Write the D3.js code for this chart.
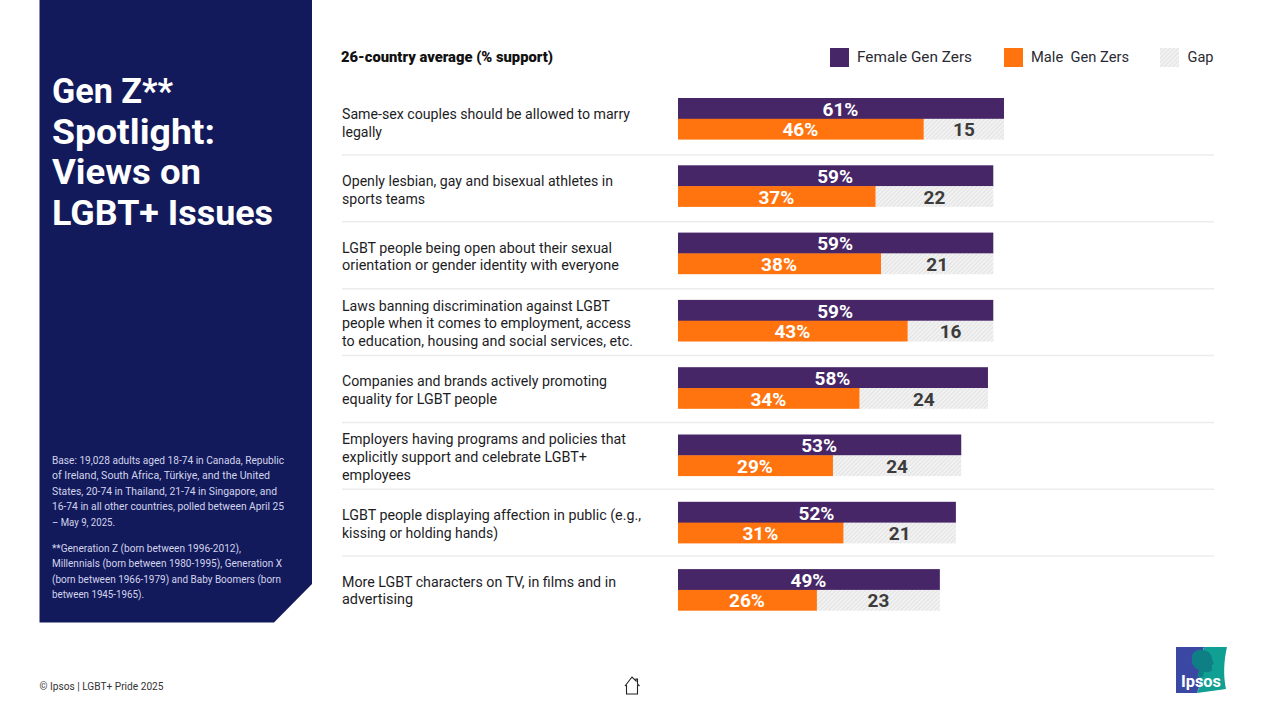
<!DOCTYPE html>
<html><head><meta charset="utf-8">
<script src="https://cdn.jsdelivr.net/npm/d3@7"></script>
<style>
html,body{margin:0;padding:0;background:#fff;overflow:hidden}
svg{display:block}
text{font-family:Roboto,"Noto Sans",sans-serif}
</style></head><body>
<svg id="c" width="1265" height="715"></svg>
<script>
const statements=[
 ["Same-sex couples should be allowed to marry","legally"],
 ["Openly lesbian, gay and bisexual athletes in","sports teams"],
 ["LGBT people being open about their sexual","orientation or gender identity with everyone"],
 ["Laws banning discrimination against LGBT","people when it comes to employment, access","to education, housing and social services, etc."],
 ["Companies and brands actively promoting","equality for LGBT people"],
 ["Employers having programs and policies that","explicitly support and celebrate LGBT+","employees"],
 ["LGBT people displaying affection in public (e.g.,","kissing or holding hands)"],
 ["More LGBT characters on TV, in films and in","advertising"]];
const female=[61,59,59,59,58,53,52,49];
const male=[46,37,38,43,34,29,31,26];
const gap=[15,22,21,16,24,24,21,23];
const titleLines=["Gen Z**","Spotlight:","Views on","LGBT+ Issues"];
const baseLines=["Base: 19,028 adults aged 18-74 in Canada, Republic","of Ireland, South Africa, Türkiye, and the United","States, 20-74 in Thailand, 21-74 in Singapore, and","16-74 in all other countries, polled between April 25","– May 9, 2025."];
const noteLines=["**Generation Z (born between 1996-2012),","Millennials (born between 1980-1995), Generation X","(born between 1966-1979) and Baby Boomers (born","between 1945-1965)."];
const legendItems=["Female Gen Zers","Male  Gen Zers","Gap"];
// rendered widths of the statement lines (layout only)
const statementWidths=[[288,40],[271,83],[270,277],[268,289,291],[265,155],[284,245,69],[299,156],[274,71]];

const PURPLE="#472668",ORANGE="#ff740f",NAVY="#121a5b",DARK="#3c3c3c",INK="#1d1d1f";
const svg=d3.select("#c");
const defs=svg.append("defs");
const pat=defs.append("pattern").attr("id","hatch").attr("patternUnits","userSpaceOnUse")
 .attr("width",3).attr("height",3).attr("patternTransform","rotate(45)");
pat.append("rect").attr("width",3).attr("height",3).attr("fill","#f2f2f2");
pat.append("line").attr("x1",0).attr("x2",0).attr("y1",0).attr("y2",3).attr("stroke","#d2d2d2").attr("stroke-width",1);

// side panel
svg.append("path").attr("d","M39.5 0H312V584L274 622.5H39.5Z").attr("fill",NAVY);
svg.append("g").selectAll("text").data(titleLines).join("text")
 .attr("x",52).attr("y",(d,i)=>103.3+i*40.4).attr("fill","#fff")
 .attr("font-size",35).attr("font-weight",700).attr("textLength",(d,i)=>[121,163,149,221][i]).attr("lengthAdjust","spacingAndGlyphs").text(d=>d);
const small=(lines,y0,lens)=>svg.append("g").selectAll("text").data(lines).join("text")
 .attr("x",52).attr("y",(d,i)=>y0+i*15.4).attr("fill","#d2d4ec").attr("font-size",10.2)
 .attr("textLength",(d,i)=>lens[i]).attr("lengthAdjust","spacingAndGlyphs").text(d=>d);
small(baseLines,464,[232,218,225,232,63]);
small(noteLines,552,[189,230,229,92]);

// chart header
svg.append("text").attr("x",341).attr("y",62).attr("font-size",14.5).attr("font-weight",900).attr("fill","#111")
 .attr("textLength",212).attr("lengthAdjust","spacingAndGlyphs").text("26-country average (% support)");

// legend
const legX=[830,1004,1160],legTextX=[857,1031,1187.5],legLen=[115,98,26],legFill=[PURPLE,ORANGE,"url(#hatch)"];
const leg=svg.append("g").selectAll("g").data(legendItems).join("g");
leg.append("rect").attr("x",(d,i)=>legX[i]).attr("y",48).attr("width",19).attr("height",19).attr("fill",(d,i)=>legFill[i]);
leg.append("text").attr("x",(d,i)=>legTextX[i]).attr("y",62).attr("font-size",15.5).attr("fill","#2a2a33").attr("xml:space","preserve")
 .style("white-space","pre").attr("textLength",(d,i)=>legLen[i]).attr("lengthAdjust","spacingAndGlyphs").text(d=>d);

// scales
const x=d3.scaleLinear().domain([0,100]).range([678,678+534.4]);
const y=d3.scaleBand().domain(d3.range(female.length)).range([98,98+8*67.3]);
const ySep=d3.scaleBand().domain(d3.range(female.length)).range([155,155+8*66.85]);
const yText=d3.scaleBand().domain(d3.range(female.length)).range([123,123+8*66.8]);
const barH=20.8;
const row=svg.append("g").selectAll("g").data(female.map((f,i)=>({i,f,m:male[i],g:gap[i],s:statements[i],w:statementWidths[i]}))).join("g");

// separators
row.filter(d=>d.i<7).append("line").attr("x1",342).attr("x2",1214)
 .attr("y1",d=>ySep(d.i)).attr("y2",d=>ySep(d.i)).attr("stroke","#ececec").attr("stroke-width",1.5);
row.append("rect").attr("x",x(0)).attr("y",d=>y(d.i)).attr("width",d=>x(d.f)-x(0)).attr("height",barH+.4).attr("fill",PURPLE);
row.append("rect").attr("x",x(0)).attr("y",d=>y(d.i)+barH).attr("width",d=>x(d.m)-x(0)).attr("height",barH).attr("fill",ORANGE);
row.append("rect").attr("x",d=>x(d.m)).attr("y",d=>y(d.i)+barH).attr("width",d=>x(d.m+d.g)-x(d.m)).attr("height",barH).attr("fill","url(#hatch)");
const lab=(val,px,fill,dy)=>row.append("text").attr("x",px).attr("y",d=>y(d.i)+dy).attr("text-anchor","middle")
 .attr("font-size",19).attr("font-weight",700).attr("fill",fill).text(val);
lab(d=>d.f+"%",d=>(x(0)+x(d.f))/2-.5,"#fff",17.8);
lab(d=>d.m+"%",d=>(x(0)+x(d.m))/2-.5,"#fff",38.3);
lab(d=>d.g,d=>(x(d.m)+x(d.m+d.g))/2,DARK,38.3);

// statements
row.each(function(d){
 const n=d.s.length, cy=yText(d.i);
 d3.select(this).selectAll("text.s").data(d.s).join("text").attr("class","s")
  .attr("x",342).attr("y",(t,k)=>cy+(k-(n-1)/2)*17.6+5).attr("font-size",14).attr("fill",INK)
  .attr("textLength",(t,k)=>d.w[k]).attr("lengthAdjust","spacingAndGlyphs").text(t=>t);
});

// footer
svg.append("text").attr("x",39.5).attr("y",690).attr("font-size",10.5).attr("fill","#333").attr("textLength",124).attr("lengthAdjust","spacingAndGlyphs").text("© Ipsos | LGBT+ Pride 2025");
svg.append("path").attr("d","M625 686L632 677L636 681V679H637.5V684L639.5 686M626.5 685V694H637.5V685").attr("fill","none").attr("stroke","#222").attr("stroke-width",1.1);

// logo
svg.append("path").attr("d","M1176 647H1204C1200 660 1199 670 1200 680C1200 686 1198 690 1197 693H1176Z").attr("fill","#3b48a3");
svg.append("path").attr("d","M1204 647H1227C1224 660 1223 675 1226 689L1197 693C1199 688 1201 684 1200 678C1199 668 1201 658 1204 647Z").attr("fill","#0f9f93");
svg.append("path").attr("d","M1198 650C1204 649 1212 652 1212 659L1214 664L1212 665L1212 670C1210 673 1206 672 1204 672L1203 677H1197L1199 670C1193 668 1191 662 1192 657C1192 653 1195 651 1198 650Z").attr("fill","#0f7f86");
svg.append("text").attr("x",1181).attr("y",687).attr("font-size",16).attr("font-weight",700).attr("fill","#fff").attr("textLength",40).attr("lengthAdjust","spacingAndGlyphs").text("Ipsos");
</script>
</body></html>
